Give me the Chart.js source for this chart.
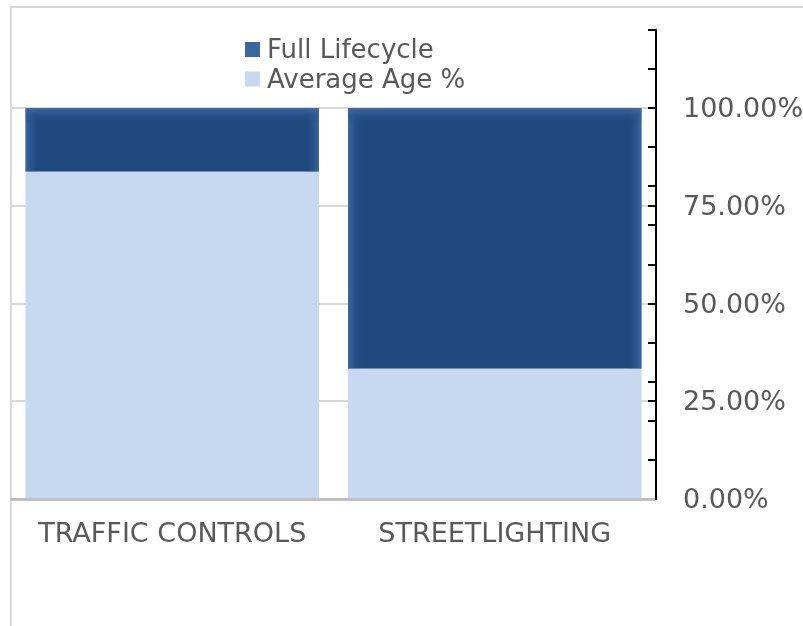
<!DOCTYPE html>
<html>
<head>
<meta charset="utf-8">
<script src="https://cdn.jsdelivr.net/npm/chart.js@4/dist/chart.umd.min.js"></script>
<style>
  html, body { margin: 0; padding: 0; background: #fff; overflow: hidden; width: 803px; height: 626px; }
  #frame { position: absolute; left: 10px; top: 6px; width: 1000px; height: 1000px; border: 2px solid #d9d9d9; box-sizing: border-box; }
  #wrap { position: absolute; left: 0; top: 0; width: 803px; height: 626px; }
</style>
</head>
<body>
<div id="frame"></div>
<div id="wrap"><canvas id="chart" width="803" height="626"></canvas></div>
<script>
// Asset categories and their share of lifecycle (percent)
const categories = ['TRAFFIC CONTROLS', 'STREETLIGHTING'];
const averageAge = [83.7, 33.3];
const fullLifecycle = [16.3, 66.7];

// Axis: minor tick marks every 10%, labels every 25%
const tickMarks = [0, 10, 20, 25, 30, 40, 50, 60, 70, 75, 80, 90, 100, 110, 120];
const labelledTicks = [0, 25, 50, 75, 100];

const TEXT = '#595959';
const FONT = '"DejaVu Sans", Verdana, sans-serif';

// Soft lighter rim on the dark segments (left, right and top edges)
const edgeGlow = {
  id: 'edgeGlow',
  afterDatasetDraw(chart, args) {
    const ds = chart.data.datasets[args.index];
    if (!ds.rimColor) return;
    const ctx = chart.ctx;
    const g = 15;
    args.meta.data.forEach(bar => {
      const p = bar.getProps(['x', 'y', 'base', 'width'], true);
      const l = p.x - p.width / 2, r = p.x + p.width / 2;
      const t = Math.min(p.y, p.base), b = Math.max(p.y, p.base);
      ctx.save();
      ctx.beginPath();
      ctx.rect(l, t, r - l, b - t);
      ctx.clip();
      let grad = ctx.createLinearGradient(l, 0, l + g, 0);
      grad.addColorStop(0, ds.rimColor);
      grad.addColorStop(1, 'rgba(31,73,125,0)');
      ctx.fillStyle = grad;
      ctx.fillRect(l, t, g, b - t);
      grad = ctx.createLinearGradient(r, 0, r - g, 0);
      grad.addColorStop(0, ds.rimColor);
      grad.addColorStop(1, 'rgba(31,73,125,0)');
      ctx.fillStyle = grad;
      ctx.fillRect(r - g, t, g, b - t);
      grad = ctx.createLinearGradient(0, t, 0, t + g);
      grad.addColorStop(0, ds.rimColor);
      grad.addColorStop(1, 'rgba(31,73,125,0)');
      ctx.fillStyle = grad;
      ctx.fillRect(l, t, r - l, g);
      ctx.restore();
    });
  }
};

// Stacked legend, top series listed first
const stackLegend = {
  id: 'stackLegend',
  afterDraw(chart, args, opts) {
    const ctx = chart.ctx;
    const items = chart.data.datasets.slice().reverse();
    ctx.save();
    ctx.font = opts.fontSize + 'px ' + FONT;
    ctx.textBaseline = 'alphabetic';
    ctx.textAlign = 'left';
    items.forEach((ds, i) => {
      const base = opts.y + i * opts.rowHeight;
      ctx.fillStyle = ds.legendColor;
      ctx.fillRect(opts.x, base - 16, 15, 15);
      ctx.fillStyle = TEXT;
      ctx.fillText(ds.label, opts.x + 22, base);
    });
    ctx.restore();
  }
};

new Chart(document.getElementById('chart'), {
  type: 'bar',
  data: {
    labels: categories,
    datasets: [
      {
        label: 'Average Age %',
        data: averageAge,
        backgroundColor: '#c6d9f0',
        legendColor: '#c6d9f0',
        borderWidth: 0
      },
      {
        label: 'Full Lifecycle',
        data: fullLifecycle,
        backgroundColor: '#1f497d',
        legendColor: '#3b67a0',
        rimColor: 'rgba(62,108,168,0.9)',
        borderWidth: 0
      }
    ]
  },
  options: {
    responsive: false,
    animation: false,
    devicePixelRatio: 1,
    layout: { padding: { left: 11, top: 30, right: 0, bottom: 0 } },
    datasets: { bar: { categoryPercentage: 1, barPercentage: 0.91 } },
    plugins: {
      legend: { display: false },
      tooltip: { enabled: false },
      stackLegend: { x: 245, y: 58, rowHeight: 29.5, fontSize: 26 }
    },
    scales: {
      x: {
        stacked: true,
        grid: { display: false, drawTicks: false },
        border: { display: true, color: '#bfbfbf', width: 3 },
        ticks: { color: TEXT, font: { family: FONT, size: 27 }, padding: 20, maxRotation: 0 },
        afterFit(scale) { scale.height = 127; scale.paddingLeft = 0; scale.paddingRight = 0; }
      },
      y: {
        stacked: true,
        position: 'right',
        min: 0,
        max: 120,
        afterBuildTicks(scale) { scale.ticks = tickMarks.map(v => ({ value: v })); },
        grid: {
          drawTicks: true,
          tickLength: -8,
          tickWidth: 2,
          tickColor: '#000',
          lineWidth: 2,
          color: ctx => (ctx.tick && ctx.tick.value > 0 && labelledTicks.includes(ctx.tick.value)) ? '#d9d9d9' : 'rgba(0,0,0,0)'
        },
        border: { display: true, color: '#000', width: 2 },
        ticks: {
          autoSkip: false,
          padding: 35,
          labelOffset: 2,
          color: TEXT,
          font: { family: FONT, size: 27 },
          callback: v => labelledTicks.includes(v) ? v.toFixed(2) + '%' : ''
        },
        afterFit(scale) { scale.width = 147; scale.paddingTop = 0; scale.paddingBottom = 0; }
      }
    }
  },
  plugins: [edgeGlow, stackLegend]
});
</script>
</body>
</html>
